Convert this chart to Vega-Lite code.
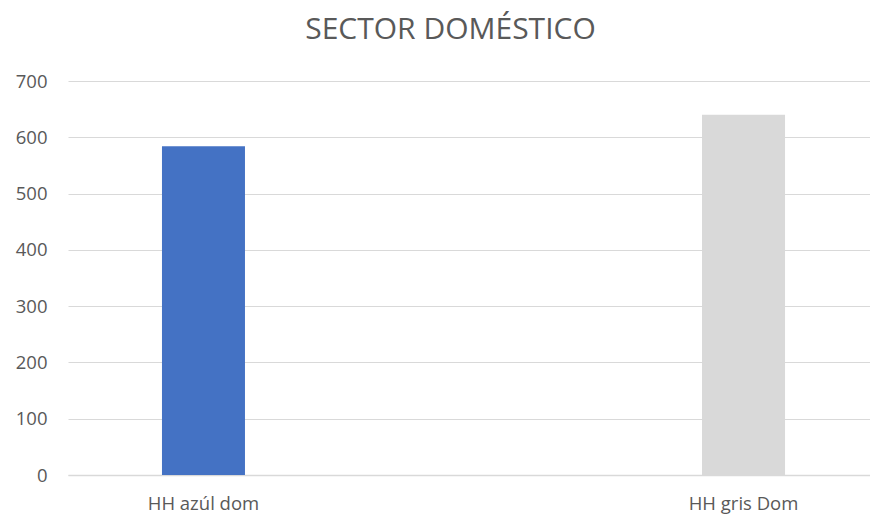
{
  "$schema": "https://vega.github.io/schema/vega-lite/v6.json",
  "width": 811,
  "height": 394,
  "autosize": {"type": "none"},
  "padding": {"left": 68, "top": 81, "right": 0, "bottom": 40},
  "background": "white",
  "title": {
    "text": "SECTOR DOMÉSTICO",
    "font": "Open Sans",
    "fontSize": 30,
    "fontWeight": "normal",
    "color": "#595959",
    "anchor": "middle",
    "dx": -23,
    "offset": 27
  },
  "data": {
    "values": [
      {"categoria": "HH azúl dom", "valor": 584},
      {"categoria": "HH gris Dom", "valor": 640}
    ]
  },
  "mark": {"type": "bar"},
  "encoding": {
    "x": {
      "field": "categoria",
      "type": "nominal",
      "sort": null,
      "title": null,
      "scale": {"paddingInner": 0.8463, "paddingOuter": 0.174},
      "axis": {
        "labelAngle": 0,
        "labelFont": "Open Sans",
        "labelFontSize": 18.5,
        "labelColor": "#595959",
        "labelPadding": 19,
        "ticks": false,
        "domainColor": "#d9d9d9",
        "domainWidth": 1.5,
        "grid": false
      }
    },
    "y": {
      "field": "valor",
      "type": "quantitative",
      "title": null,
      "scale": {"domain": [0, 700], "nice": false},
      "axis": {
        "values": [0, 100, 200, 300, 400, 500, 600, 700],
        "labelFont": "Open Sans",
        "labelFontSize": 18.5,
        "labelColor": "#595959",
        "labelPadding": 21,
        "ticks": false,
        "domain": false,
        "gridColor": "#d9d9d9",
        "gridWidth": 1
      }
    },
    "color": {
      "field": "categoria",
      "type": "nominal",
      "scale": {"domain": ["HH azúl dom", "HH gris Dom"], "range": ["#4472c4", "#d9d9d9"]},
      "legend": null
    }
  },
  "config": {"view": {"stroke": null}}
}
